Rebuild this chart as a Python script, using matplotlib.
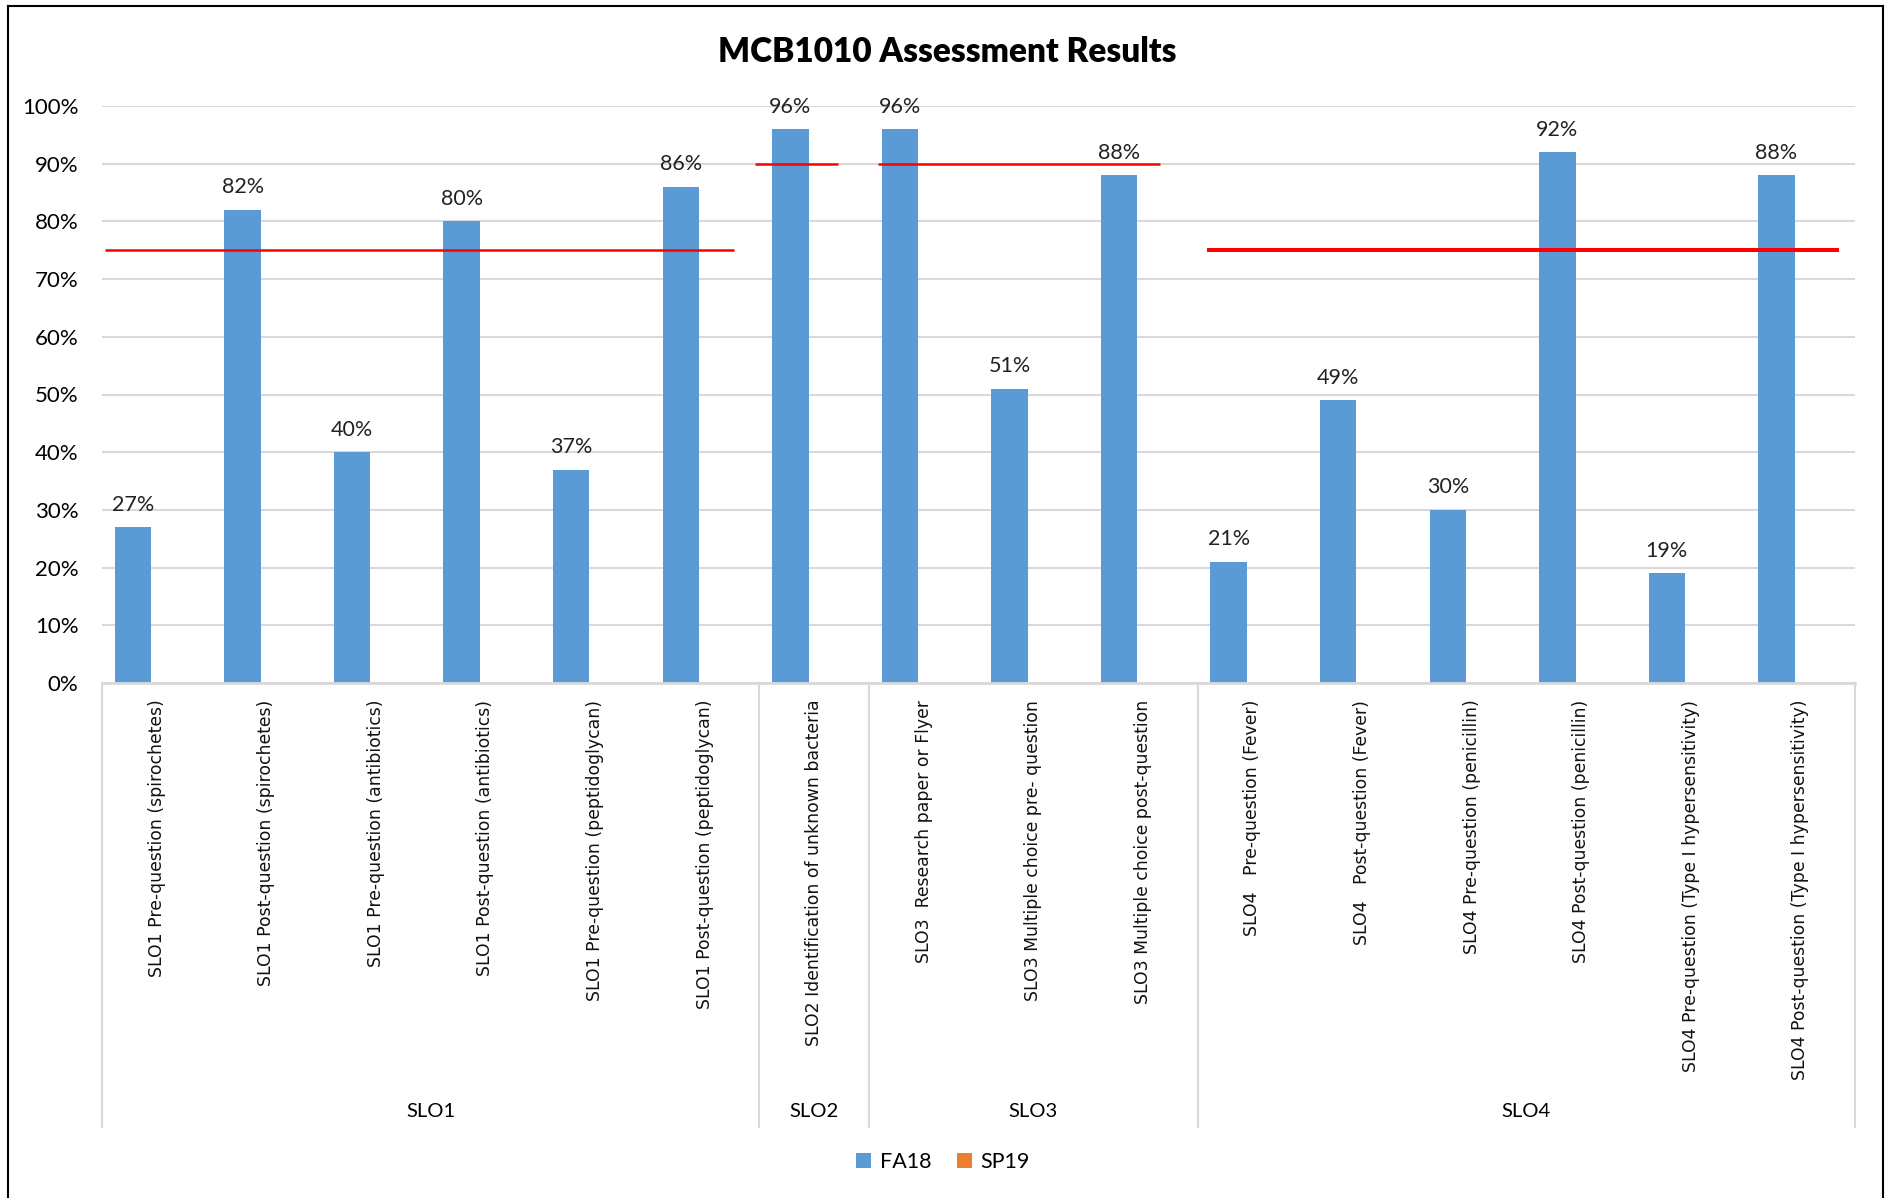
import matplotlib.pyplot as plt
from matplotlib.lines import Line2D
import numpy as np

# data
items = [
    "SLO1 Pre-question (spirochetes)",
    "SLO1 Post-question (spirochetes)",
    "SLO1 Pre-question (antibiotics)",
    "SLO1 Post-question (antibiotics)",
    "SLO1 Pre-question (peptidoglycan)",
    "SLO1 Post-question (peptidoglycan)",
    "SLO2 Identification of unknown bacteria",
    "SLO3  Research paper or Flyer",
    "SLO3 Multiple choice pre- question",
    "SLO3 Multiple choice post-question",
    "SLO4   Pre-question (Fever)",
    "SLO4   Post-question (Fever)",
    "SLO4 Pre-question (penicillin)",
    "SLO4 Post-question (penicillin)",
    "SLO4 Pre-question (Type I hypersensitivity)",
    "SLO4 Post-question (Type I hypersensitivity)",
]
fa18 = [0.27, 0.82, 0.40, 0.80, 0.37, 0.86, 0.96, 0.96, 0.51, 0.88,
        0.21, 0.49, 0.30, 0.92, 0.19, 0.88]
sp19 = [0.0] * 16

groups = ["SLO1", "SLO2", "SLO3", "SLO4"]
group_sizes = [6, 1, 3, 6]

# target lines (value, start, end in category units)
targets = [0.75, 0.90, 0.90, 0.75]
target_start = [-0.47, 5.46, 6.58, 9.59]
target_end = [5.27, 6.22, 9.16, 15.35]
target_lw = [1.8, 1.8, 1.8, 2.9]

blue = "#5B9BD5"
orange = "#ED7D31"
grid = "#D9D9D9"
calibri = ["Lato", "DejaVu Sans"]

fig = plt.figure(figsize=(18.86, 11.98), dpi=100)
ax = fig.add_axes([102 / 1886, 1 - 683 / 1198, 1753 / 1886, 577 / 1198])

x = np.arange(len(items))
w = 0.333
ax.bar(x - 0.217, fa18, width=w, color=blue, label="FA18", zorder=2)
ax.bar(x + 0.116, sp19, width=w, color=orange, label="SP19", zorder=2)

for xi, v in zip(x, fa18):
    ax.annotate(f"{v:.0%}", (xi - 0.217, v), xytext=(0, 9),
                textcoords="offset points", ha="center", va="bottom",
                fontsize=15.5, family=calibri, color="#222222")

for v, s, e, lw in zip(targets, target_start, target_end, target_lw):
    ax.plot([s, e], [v, v], color="red", lw=lw, zorder=3,
            solid_capstyle="butt")

ax.set_xlim(-0.5, len(items) - 0.5)
ax.set_ylim(0, 1)
ax.set_yticks(np.arange(0, 1.01, 0.1))
ax.set_yticklabels([f"{int(round(t * 100))}%" for t in np.arange(0, 1.01, 0.1)],
                   fontsize=16, family=calibri)
ax.yaxis.grid(True, color=grid, lw=1.5, zorder=0)
ax.set_axisbelow(True)
for s in ["left", "right", "top"]:
    ax.spines[s].set_visible(False)
ax.spines["bottom"].set_color(grid)
ax.spines["bottom"].set_linewidth(2)
ax.tick_params(axis="y", length=0, pad=17)

ax.set_xticks(x)
ax.set_xticklabels(items, rotation=90, fontsize=12.4, family="DejaVu Sans",
                   color="#111111")
ax.tick_params(axis="x", length=0, pad=12)

# group level of the category axis
tr = ax.get_xaxis_transform()
edges = np.concatenate([[0], np.cumsum(group_sizes)]) - 0.5
for ed in edges:
    ax.add_line(Line2D([ed, ed], [0, -0.77], transform=tr, color=grid,
                       lw=1.5, clip_on=False))
for g, a, b in zip(groups, edges[:-1], edges[1:]):
    ax.text((a + b) / 2, -0.742, g, transform=tr, ha="center", va="center",
            fontsize=14.5, family=calibri)

fig.text(947 / 1886, 1 - 52 / 1198, "MCB1010 Assessment Results",
         ha="center", va="center", fontsize=24, fontweight="heavy",
         family=calibri)

fig.legend(loc="center", bbox_to_anchor=(0.5, 1 - 1162 / 1198), ncol=2,
           frameon=False, prop={"family": calibri, "size": 15.5},
           handlelength=0.7, handleheight=0.7, handletextpad=0.4,
           columnspacing=1.2)

# chart border (no bottom edge visible)
for xs, ys in [([8, 8], [0, 1192]), ([8, 1883], [1192, 1192]),
               ([1883, 1883], [1192, 0])]:
    fig.add_artist(Line2D(np.array(xs) / 1886, np.array(ys) / 1198,
                          color="black", lw=1.5))

fig.savefig("out.png", dpi=100)
